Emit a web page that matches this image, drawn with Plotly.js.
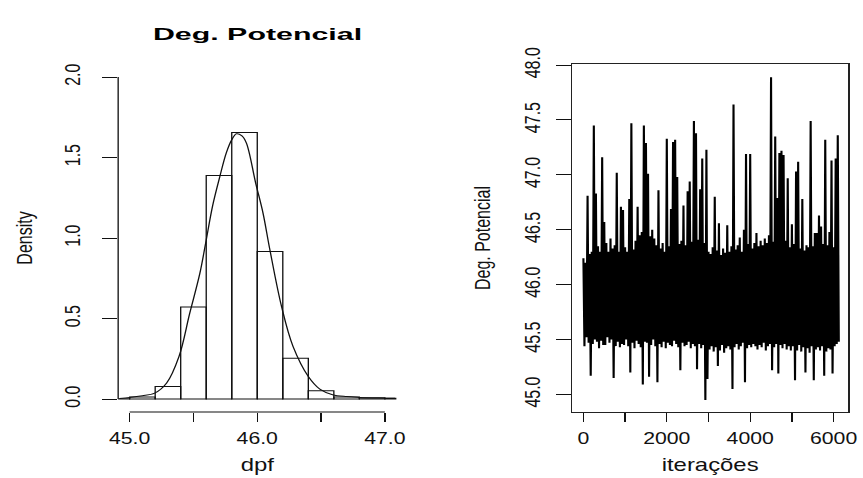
<!DOCTYPE html>
<html><head><meta charset="utf-8">
<script src="https://cdn.plot.ly/plotly-3.0.1.min.js"></script>
<style>
html,body{margin:0;padding:0;background:#fff;overflow:hidden}
#wrap{width:863px;height:478px;overflow:hidden}
#chart{width:650px;height:478px;transform:scaleX(1.32769);transform-origin:0 0}
#chart .gtitle{transform-box:fill-box;transform-origin:50% 50%;transform:scaleX(1.43)}
</style></head><body><div id="wrap"><div id="chart"></div></div>
<script>
// ---- histogram of dpf (density scale) ----
const binEdges = [44.8, 45.0, 45.2, 45.4, 45.6, 45.8, 46.0, 46.2, 46.4, 46.6, 46.8, 47.0, 47.2];
const binDensity = [0.002, 0.012, 0.077, 0.571, 1.389, 1.655, 0.917, 0.253, 0.052, 0.013, 0.008, 0.004];

// ---- kernel density curve ----
const densX = [44.92, 45.0, 45.1, 45.196, 45.29, 45.387, 45.47, 45.55, 45.596, 45.65, 45.706, 45.758, 45.80, 45.837, 45.88, 45.915, 45.988, 46.045, 46.098, 46.19, 46.28, 46.40, 46.49, 46.59, 46.70, 46.80, 46.95, 47.08];
const densY = [0.003, 0.01, 0.02, 0.037, 0.10, 0.265, 0.53, 0.78, 0.97, 1.2, 1.38, 1.53, 1.61, 1.648, 1.635, 1.59, 1.34, 1.155, 0.93, 0.575, 0.327, 0.14, 0.062, 0.027, 0.015, 0.01, 0.006, 0.004];

// ---- MCMC chain (one value read every 25 iterations) ----
const chainStep = 25;
const chainValues = [
46.24,45.44,46.20,45.52,46.81,45.47,46.28,45.17,46.30,45.46,
47.45,45.50,46.83,45.48,46.35,45.42,46.30,45.49,47.16,45.45,
46.57,45.45,46.38,45.52,46.30,45.47,46.42,45.50,46.33,45.15,
46.36,45.44,47.02,45.48,46.30,45.43,46.71,45.46,46.68,45.45,
46.34,45.50,46.30,45.44,46.78,45.20,47.47,45.47,46.32,45.42,
46.40,45.49,46.71,45.46,46.45,45.43,46.48,45.09,47.45,45.48,
47.29,45.47,47.01,45.16,46.44,45.45,46.50,45.50,46.42,45.44,
46.36,45.11,46.86,45.46,46.33,45.43,46.38,45.48,46.30,45.42,
47.33,45.47,46.35,45.45,46.69,45.44,47.30,45.49,47.32,45.46,
46.98,45.43,46.37,45.22,46.40,45.47,46.72,45.44,46.36,45.45,
46.85,45.48,46.94,45.42,46.39,45.46,47.49,45.44,47.38,45.23,
46.41,45.46,46.87,45.42,47.15,45.45,46.38,44.95,47.23,45.14,
46.30,45.41,46.28,45.44,46.34,45.39,46.80,45.43,46.31,45.26,
46.56,45.40,46.27,45.45,46.33,45.38,46.29,45.42,46.54,45.44,
46.30,45.41,46.35,45.05,47.64,45.43,46.32,45.46,46.36,45.41,
46.43,45.44,46.30,45.47,46.50,45.11,47.19,45.42,46.37,45.45,
47.19,45.43,46.33,45.46,46.38,45.44,46.47,45.41,46.35,45.45,
46.40,45.43,46.36,45.47,46.42,45.40,46.38,45.44,46.45,45.46,
47.89,45.22,46.39,45.43,47.35,45.46,46.79,45.19,47.20,45.45,
47.22,45.42,47.18,45.46,46.40,45.41,46.97,45.44,46.34,45.40,
46.55,45.44,46.37,45.13,47.03,45.40,47.12,45.45,46.33,45.39,
46.78,45.43,46.31,45.20,46.36,45.42,46.34,45.38,47.49,45.44,
46.35,45.13,46.47,45.41,46.47,45.43,46.63,45.40,46.53,45.44,
46.37,45.17,47.32,45.39,46.36,45.42,46.48,45.41,47.13,45.19,
46.34,45.44,47.15,45.46,47.36,45.48
];

// ---- ticks ----
const histTicks = [45.0, 45.5, 46.0, 46.5, 47.0];
const histTickText = ['45.0', '', '46.0', '', '47.0'];
const densTicks = [0, 0.5, 1.0, 1.5, 2.0];
const densTickText = ['0.0', '0.5', '1.0', '1.5', '2.0'];
const iterTicks = [0, 1000, 2000, 3000, 4000, 5000, 6000];
const iterTickText = ['0', '', '2000', '', '4000', '', '6000'];
const chainTicks = [45.0, 45.5, 46.0, 46.5, 47.0, 47.5, 48.0];
const chainTickText = ['45.0', '45.5', '46.0', '46.5', '47.0', '47.5', '48.0'];

const binCenters = binDensity.map((d, i) => (binEdges[i] + binEdges[i + 1]) / 2);
const binWidths = binDensity.map((d, i) => binEdges[i + 1] - binEdges[i]);
const iterations = chainValues.map((v, i) => i * chainStep);

const FONT = 'Liberation Sans, Arial, sans-serif';
const INK = '#111';

const traces = [
  {type: 'bar', x: binCenters, y: binDensity, width: binWidths,
   marker: {color: 'rgba(255,255,255,0)', line: {color: INK, width: 1}},
   xaxis: 'x', yaxis: 'y', hoverinfo: 'skip'},
  {type: 'scatter', mode: 'lines', x: densX, y: densY,
   line: {color: INK, width: 1, shape: 'spline', smoothing: 1},
   xaxis: 'x', yaxis: 'y', hoverinfo: 'skip'},
  {type: 'scatter', mode: 'lines', x: iterations, y: chainValues,
   line: {color: '#000', width: 1.6},
   xaxis: 'x2', yaxis: 'y2', hoverinfo: 'skip'}
];

const tickBase = {ticks: 'outside', tickwidth: 1, tickcolor: INK, showgrid: false, zeroline: false,
  tickfont: {family: FONT, size: 16, color: INK}, tickmode: 'array'};

const layout = {
  width: 650, height: 478,
  margin: {l: 89.25, r: 11.3, t: 64, b: 66, pad: 0},
  paper_bgcolor: '#fff', plot_bgcolor: '#fff',
  showlegend: false,
  font: {family: FONT, color: INK},
  title: {text: 'Deg. Potencial', font: {family: FONT, size: 16, weight: 'bold', color: '#000'},
    xref: 'container', yref: 'container', x: 0.2984, y: 0.927, xanchor: 'center', yanchor: 'middle'},
  xaxis: Object.assign({}, tickBase, {domain: [0, 0.381], range: [44.91, 47.09], anchor: 'y',
    tickvals: histTicks, ticktext: histTickText, ticklen: 9, ticklabelstandoff: 3, showline: false,
    title: {text: 'dpf', font: {family: FONT, size: 18, color: INK}, standoff: 12}}),
  yaxis: Object.assign({}, tickBase, {domain: [0, 1], range: [-0.0807, 2.081], anchor: 'x',
    tickvals: densTicks, ticktext: densTickText, ticklen: 11.3, tickangle: -90, ticklabelstandoff: 10, showline: false,
    title: {text: 'Density', font: {family: FONT, size: 16, color: INK}, standoff: 17}}),
  xaxis2: Object.assign({}, tickBase, {domain: [0.6213, 1], range: [-277, 6355], anchor: 'y2',
    tickvals: iterTicks, ticktext: iterTickText, ticklen: 9, ticklabelstandoff: 3,
    showline: true, mirror: true, linecolor: '#222', linewidth: 1,
    title: {text: 'iterações', font: {family: FONT, size: 18, color: INK}, standoff: 12}}),
  yaxis2: Object.assign({}, tickBase, {domain: [0, 1], range: [44.84, 48.01], anchor: 'x2',
    tickvals: chainTicks, ticktext: chainTickText, ticklen: 11.3, tickangle: -90, ticklabelstandoff: 5,
    showline: true, mirror: true, linecolor: '#222', linewidth: 1,
    title: {text: 'Deg. Potencial', font: {family: FONT, size: 16, color: INK}, standoff: 19}}),
  shapes: [
    {type: 'line', xref: 'x', yref: 'y domain', x0: histTicks[0], x1: histTicks[histTicks.length - 1], y0: 0, y1: 0,
     line: {color: INK, width: 1}},
    {type: 'line', xref: 'x domain', yref: 'y', x0: 0, x1: 0, y0: densTicks[0], y1: densTicks[densTicks.length - 1],
     line: {color: INK, width: 1}}
  ]
};

Plotly.newPlot('chart', traces, layout, {staticPlot: true, displayModeBar: false});
</script></body></html>
